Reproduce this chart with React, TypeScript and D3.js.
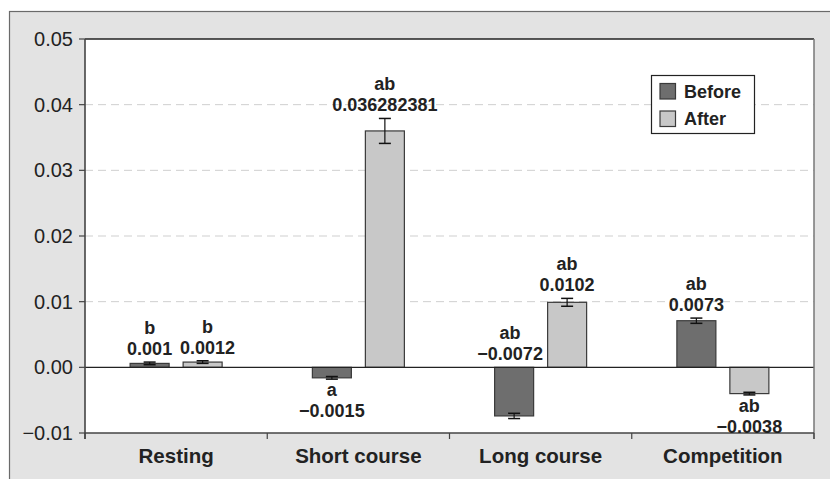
import React from "react";
import * as d3 from "d3";

const categories = ["Resting", "Short course", "Long course", "Competition"];
const seriesNames = ["Before", "After"];
const beforeValues = [0.0006, -0.0016, -0.0074, 0.0071];
const afterValues = [0.0008, 0.036, 0.0099, -0.004];
const beforeErrors = [0.0002, 0.0002, 0.0004, 0.0004];
const afterErrors = [0.0002, 0.0019, 0.0006, 0.0002];
const beforeLetters = ["b", "a", "ab", "ab"];
const afterLetters = ["b", "ab", "ab", "ab"];
const beforeLabels = ["0.001", "\u22120.0015", "\u22120.0072", "0.0073"];
const afterLabels = ["0.0012", "0.036282381", "0.0102", "\u22120.0038"];
const yTicks = [-0.01, 0, 0.01, 0.02, 0.03, 0.04, 0.05];
const yTickLabels = ["\u22120.01", "0.00", "0.01", "0.02", "0.03", "0.04", "0.05"];

const W = 830;
const H = 479;
const plot = { left: 85, top: 39, right: 814, bottom: 433 };
const colors = ["#6e6e6e", "#c8c8c8"];
const FONT = "Liberation Sans, Arial, Helvetica, sans-serif";
const GROUP_W = 92;

export default function App() {
  const y = d3.scaleLinear().domain([-0.01, 0.05]).range([plot.bottom, plot.top]);
  const x0 = d3.scaleBand<string>().domain(categories).range([plot.left, plot.right]).padding(0);
  const x1 = d3.scaleBand<string>().domain(seriesNames).range([0, GROUP_W]).paddingInner(0.264);
  const groupOffset = (x0.bandwidth() - GROUP_W) / 2;

  const series = [
    { name: "Before", values: beforeValues, errors: beforeErrors, letters: beforeLetters, labels: beforeLabels },
    { name: "After", values: afterValues, errors: afterErrors, letters: afterLetters, labels: afterLabels },
  ];

  const boundaries = categories.map((c) => x0(c) as number).concat([plot.right]);

  const labelShift = (s: string, c: string) => {
    if (s === "After" && c === "Resting") return 5;
    if (s === "Before" && c === "Long course") return -4;
    return 0;
  };

  return (
    <svg width={W} height={H} style={{ position: "absolute", left: 0, top: 0 }}>
      <rect x={0} y={0} width={W} height={H} fill="#ffffff" />
      <rect x={9.5} y={11.5} width={W + 10} height={H + 10} fill="#e3e3e3" stroke="#6a6a6a" strokeWidth={1.2} />
      <rect x={plot.left} y={plot.top} width={plot.right - plot.left} height={plot.bottom - plot.top} fill="#ffffff" />
      {yTicks
        .filter((t) => t > 0 && t < 0.05)
        .map((t) => (
          <line
            key={"g" + t}
            x1={plot.left}
            x2={plot.right}
            y1={y(t)}
            y2={y(t)}
            stroke="#cfcfcf"
            strokeWidth={1}
            strokeDasharray="8,5"
          />
        ))}
      {series.map((s, si) =>
        categories.map((c, ci) => {
          const bx = (x0(c) as number) + groupOffset + (x1(s.name) as number);
          const bw = x1.bandwidth();
          const v = s.values[ci];
          const top = Math.min(y(v), y(0));
          const h = Math.abs(y(v) - y(0));
          const cx = bx + bw / 2;
          const e = s.errors[ci];
          const eHi = y(v + e);
          const eLo = y(v - e);
          return (
            <g key={s.name + c}>
              <rect x={bx} y={top} width={bw} height={h} fill={colors[si]} stroke="#3a3a3a" strokeWidth={1.2} />
              <line x1={cx} x2={cx} y1={eHi} y2={eLo} stroke="#111" strokeWidth={1.2} />
              <line x1={cx - 6} x2={cx + 6} y1={eHi} y2={eHi} stroke="#111" strokeWidth={1.5} />
              <line x1={cx - 6} x2={cx + 6} y1={eLo} y2={eLo} stroke="#111" strokeWidth={1.5} />
            </g>
          );
        })
      )}
      <line x1={plot.left} x2={plot.right} y1={y(0)} y2={y(0)} stroke="#222" strokeWidth={1.2} />
      <line x1={plot.left} x2={plot.right} y1={plot.top} y2={plot.top} stroke="#222" strokeWidth={1.3} />
      <line x1={plot.right} x2={plot.right} y1={plot.top} y2={plot.bottom + 6} stroke="#777" strokeWidth={1.5} />
      <line x1={plot.left} x2={plot.left} y1={plot.top} y2={plot.bottom + 6} stroke="#444" strokeWidth={1.6} />
      <line x1={plot.left} x2={plot.right} y1={plot.bottom} y2={plot.bottom} stroke="#444" strokeWidth={1.5} />
      {yTicks.map((t, i) => (
        <g key={"t" + t}>
          <line x1={plot.left - 6} x2={plot.left} y1={y(t)} y2={y(t)} stroke="#444" strokeWidth={1.2} />
          <text x={plot.left - 12} y={y(t)} dy="0.35em" textAnchor="end" fontFamily={FONT} fontSize={20} fill="#222">
            {yTickLabels[i]}
          </text>
        </g>
      ))}
      {boundaries.map((b, i) => (
        <line key={"xb" + i} x1={b} x2={b} y1={plot.bottom} y2={plot.bottom + 6} stroke="#444" strokeWidth={1.2} />
      ))}
      {categories.map((c) => (
        <text
          key={"c" + c}
          x={(x0(c) as number) + x0.bandwidth() / 2}
          y={463}
          textAnchor="middle"
          fontFamily={FONT}
          fontWeight="bold"
          fontSize={20.5}
          fill="#222"
        >
          {c}
        </text>
      ))}
      {series.map((s) =>
        categories.map((c, ci) => {
          const bx = (x0(c) as number) + groupOffset + (x1(s.name) as number);
          const cx = bx + x1.bandwidth() / 2 + labelShift(s.name, c);
          const v = s.values[ci];
          const e = s.errors[ci];
          const above = v >= 0 || (s.name === "Before" && c === "Long course");
          let numBase: number;
          if (above) {
            const ref = v >= 0 ? y(v + e) : y(0);
            numBase = ref - 7;
          } else {
            numBase = y(v - e) + 38;
          }
          return (
            <text key={"l" + s.name + c} textAnchor="middle" fontFamily={FONT} fontWeight="bold" fontSize={18} fill="#222">
              <tspan x={cx} y={numBase - 21}>
                {s.letters[ci]}
              </tspan>
              <tspan x={cx} y={numBase}>
                {s.labels[ci]}
              </tspan>
            </text>
          );
        })
      )}
      <rect x={651.5} y={75.5} width={103} height={58} fill="#ffffff" stroke="#222" strokeWidth={1.2} />
      {seriesNames.map((n, i) => (
        <g key={"lg" + n}>
          <rect x={660} y={83.5 + i * 27.5} width={15.5} height={15.5} fill={colors[i]} stroke="#3a3a3a" strokeWidth={1.2} />
          <text x={684} y={91.5 + i * 27.5} dy="0.35em" fontFamily={FONT} fontWeight="bold" fontSize={18} fill="#222">
            {n}
          </text>
        </g>
      ))}
    </svg>
  );
}
